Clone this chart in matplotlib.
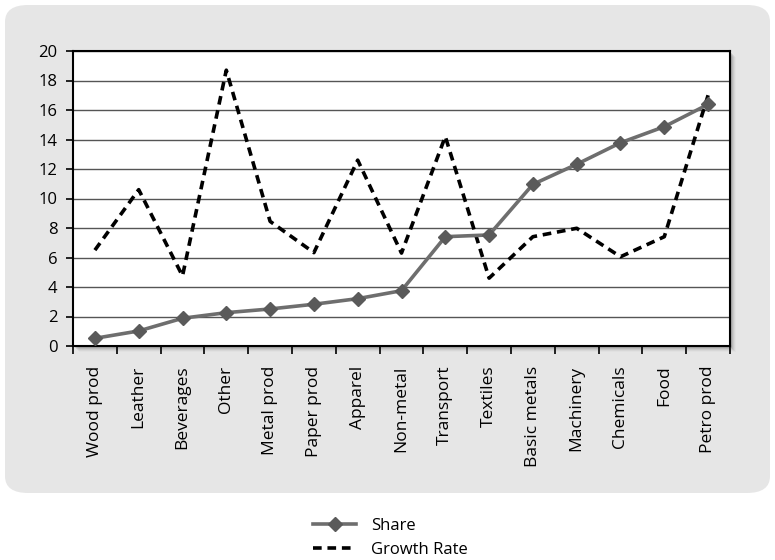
import matplotlib
matplotlib.use('Agg')
import matplotlib.pyplot as plt
from matplotlib.patches import FancyBboxPatch, Rectangle
from matplotlib.lines import Line2D

# Setores industriais e valores
setores = ['Wood prod', 'Leather', 'Beverages', 'Other', 'Metal prod', 'Paper prod',
           'Apparel', 'Non-metal', 'Transport', 'Textiles', 'Basic metals',
           'Machinery', 'Chemicals', 'Food', 'Petro prod']
share = [0.52, 1.02, 1.88, 2.26, 2.51, 2.83, 3.21, 3.75, 7.41, 7.53, 10.96,
         12.32, 13.78, 14.87, 16.38]
growth = [6.5, 10.6, 4.75, 18.7, 8.45, 6.33, 12.6, 6.3, 14.2, 4.6, 7.41,
          7.98, 6.05, 7.41, 17.0]
yticks = [0, 2, 4, 6, 8, 10, 12, 14, 16, 18, 20]

plt.rcParams['font.family'] = ['Open Sans', 'DejaVu Sans']

fig = plt.figure(figsize=(7.75, 5.6), dpi=100)

# Fundo cinza arredondado
fundo = FancyBboxPatch((5 / 775, 67 / 560), 765 / 775, 488 / 560,
                       boxstyle='round,pad=0,rounding_size=0.03',
                       transform=fig.transFigure, facecolor='#e6e6e6',
                       edgecolor='none', zorder=0)
fig.patches.append(fundo)

x0, x1 = 73 / 775, 730 / 775
y0, y1 = (560 - 346) / 560, (560 - 51) / 560

# Sombra do painel
for i, a in enumerate([0.10, 0.08, 0.06, 0.04, 0.02]):
    d = (i + 2) / 775
    fig.patches.append(Rectangle((x0 + d, y0 - d * 775 / 560), x1 - x0, y1 - y0,
                                 transform=fig.transFigure, facecolor='black',
                                 alpha=a, edgecolor='none', zorder=1))

ax = fig.add_axes([x0, y0, x1 - x0, y1 - y0])
ax.set_zorder(2)
ax.set_facecolor('white')

pos = range(len(setores))
ax.plot(pos, share, color='#6e6e6e', linewidth=2.6, marker='D', markersize=7,
        markerfacecolor='#5a5a5a', markeredgecolor='#5a5a5a', label='Share', zorder=4)
ax.plot(pos, growth, color='black', linewidth=2.6, linestyle=(0, (2.4, 1.6)),
        label='Growth Rate', zorder=3)

ax.set_xlim(-0.5, len(setores) - 0.5)
ax.set_ylim(0, 20)
ax.set_yticks(yticks)
ax.set_yticklabels([str(v) for v in yticks], fontsize=12)
ax.set_xticks([p - 0.5 for p in pos] + [len(setores) - 0.5])
ax.set_xticklabels([])
ax.set_xticks(list(pos), minor=True)
ax.set_xticklabels(setores, minor=True, rotation=90, fontsize=12.5)
ax.tick_params(axis='x', which='minor', length=0, pad=14)
ax.tick_params(axis='x', which='major', length=6, width=1.2, direction='out')
ax.tick_params(axis='y', length=5, width=1.2, direction='out', pad=6)

ax.grid(True, axis='y', color='#555555', linewidth=1.0)
ax.set_axisbelow(True)
for s in ax.spines.values():
    s.set_linewidth(1.5)
    s.set_color('black')

# Legenda abaixo do gráfico
handles = [Line2D([], [], color='#6e6e6e', linewidth=2.6, marker='D', markersize=7,
                  markerfacecolor='#5a5a5a', markeredgecolor='#5a5a5a'),
           Line2D([], [], color='black', linewidth=2.6, linestyle=(0, (2.4, 1.6)))]
fig.legend(handles, ['Share', 'Growth Rate'], loc='upper left',
           bbox_to_anchor=(298 / 775, 1 - 503 / 560), frameon=False,
           fontsize=12, handlelength=2.6, handletextpad=0.9, labelspacing=0.45)

fig.savefig('out.png', dpi=100, facecolor='white')
